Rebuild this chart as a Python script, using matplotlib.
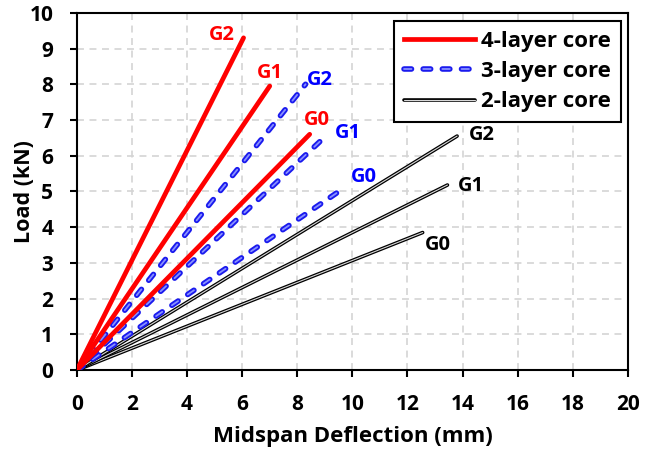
import matplotlib.pyplot as plt
import matplotlib.patheffects as pe

plt.rcParams['font.family'] = ['Open Sans', 'DejaVu Sans']
plt.rcParams['font.weight'] = 'bold'
plt.rcParams['lines.scale_dashes'] = False

# end points (deflection mm, load kN) for each specimen, lines start at origin
labels = ['G0', 'G1', 'G2']
defl_4 = [8.45, 7.0, 6.05]
load_4 = [6.6, 7.95, 9.3]
defl_3 = [9.7, 9.1, 8.3]
load_3 = [5.1, 6.6, 8.0]
defl_2 = [12.55, 13.45, 13.8]
load_2 = [3.85, 5.18, 6.55]

# label text positions
lab_pos_4 = [(8.7, 7.0), (7.0, 8.32), (5.26, 9.38)]
lab_pos_3 = [(10.4, 5.4), (9.85, 6.64), (8.8, 8.12)]
lab_pos_2 = [(13.1, 3.5), (14.3, 5.15), (14.7, 6.58)]

fig = plt.figure(figsize=(6.46, 4.58), dpi=100)
ax = fig.add_axes([0.119, 0.192, 0.853, 0.78])

dash_out = (0, (5.4, 8.4))
fx_2 = [pe.Stroke(linewidth=2.6, foreground='black'), pe.Normal()]
fx_3 = [pe.Stroke(linewidth=4.0, foreground='#1a1aee'), pe.Normal()]

for i in range(3):
    ax.plot([0, defl_2[i]], [0, load_2[i]], color='#d8d8d8', lw=0.8,
            solid_capstyle='round', path_effects=fx_2, zorder=3)
    ax.plot([0, defl_3[i]], [0, load_3[i]], color='#8890ff', lw=1.3,
            linestyle=dash_out, dash_capstyle='round', path_effects=fx_3,
            zorder=4)
    ax.plot([0, defl_4[i]], [0, load_4[i]], color='#ff0000', lw=3.4,
            solid_capstyle='round', zorder=5)

for i in range(3):
    ax.text(*lab_pos_4[i], labels[i], color='#ff0000', fontsize=14.5,
            ha='center', va='center', fontweight='bold')
    ax.text(*lab_pos_3[i], labels[i], color='#0000ff', fontsize=14.5,
            ha='center', va='center', fontweight='bold')
    ax.text(*lab_pos_2[i], labels[i], color='black', fontsize=14.5,
            ha='center', va='center', fontweight='bold')

ax.set_xlim(0, 20)
ax.set_ylim(0, 10)
ax.set_xticks(range(0, 21, 2))
ax.set_yticks(range(0, 11))
ax.grid(True, color='#d4d4d4', linestyle=(0, (5, 4)), lw=1.2)
ax.set_axisbelow(True)
ax.tick_params(direction='out', length=5, width=1.5, labelsize=15)
ax.tick_params(axis='x', pad=12)
ax.tick_params(axis='y', pad=12)
for sp in ax.spines.values():
    sp.set_linewidth(1.5)
ax.set_xlabel('Midspan Deflection (mm)', fontsize=16, fontweight='bold', labelpad=8)
ax.set_ylabel('Load (kN)', fontsize=15.5, fontweight='bold')
ax.yaxis.set_label_coords(-0.076, 0.5)

# legend handles
h4, = ax.plot([], [], color='#ff0000', lw=3.4)
h3, = ax.plot([], [], color='#8890ff', lw=1.3, linestyle=dash_out,
              dash_capstyle='round', path_effects=fx_3)
h2, = ax.plot([], [], color='#d8d8d8', lw=0.8, solid_capstyle='round',
              path_effects=fx_2)
leg = ax.legend([h4, h3, h2], ['4-layer core', '3-layer core', '2-layer core'],
                loc='upper right', bbox_to_anchor=(0.988, 0.978),
                fontsize=16, handlelength=3.2, handletextpad=0.3,
                labelspacing=0.42, borderpad=0.45, borderaxespad=0,
                fancybox=False, edgecolor='black', framealpha=1)
leg.get_frame().set_linewidth(1.5)

fig.savefig('out.png', dpi=100)
